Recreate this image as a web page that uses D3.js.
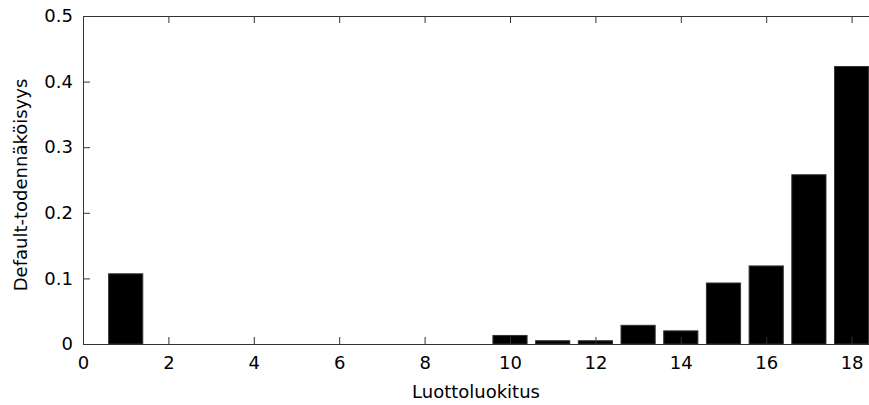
<!DOCTYPE html>
<html>
<head>
<meta charset="utf-8">
<script src="https://cdn.jsdelivr.net/npm/d3@7"></script>
<style>
    body { margin: 0; background: #fff; }
    svg text { font-family: "DejaVu Sans", sans-serif; font-size: 18px; fill: #000; }
</style>
</head>
<body>
<svg id="chart" width="869" height="405"></svg>
<script>
    var ratings = [1, 2, 3, 4, 5, 6, 7, 8, 9, 10, 11, 12, 13, 14, 15, 16, 17, 18];
    var defaultProb = [0.107, 0, 0, 0, 0, 0, 0, 0, 0, 0.013, 0.005, 0.005, 0.0285, 0.020, 0.093, 0.119, 0.258, 0.423];
    var xTicks = [0, 2, 4, 6, 8, 10, 12, 14, 16, 18];
    var yTicks = [0, 0.1, 0.2, 0.3, 0.4, 0.5];

    var svg = d3.select("#chart");

    var plotLeft = 83, plotTop = 16, plotBottom = 344;
    var unit = 42.7;
    var xMax = 19;

    var x = d3.scaleLinear().domain([0, xMax]).range([plotLeft, plotLeft + unit * xMax]);
    var y = d3.scaleLinear().domain([0, 0.5]).range([plotBottom, plotTop]);

    var barW = 0.8;

    // pylväät
    svg.append("g")
        .selectAll("rect")
        .data(ratings)
        .enter()
        .append("rect")
        .attr("x", function(d) { return x(d - barW / 2); })
        .attr("width", x(barW) - x(0))
        .attr("y", function(d, i) { return y(defaultProb[i]); })
        .attr("height", function(d, i) { return y(0) - y(defaultProb[i]); })
        .attr("fill", "#000")
        .attr("stroke", "#333")
        .attr("stroke-width", 1);

    var axisColor = "#333";

    // akselit
    svg.append("g")
        .attr("transform", "translate(0," + plotBottom + ")")
        .call(d3.axisBottom(x).tickValues(xTicks).tickSizeInner(-7).tickSizeOuter(0).tickPadding(12).tickFormat(d3.format("d")))
        .call(function(g) {
            g.select(".domain").attr("stroke", axisColor);
            g.selectAll(".tick line").attr("stroke", axisColor);
            g.selectAll("text").attr("font-family", null).attr("font-size", null);
        });

    svg.append("g")
        .attr("transform", "translate(0," + plotTop + ")")
        .call(d3.axisTop(x).tickValues(xTicks).tickSizeInner(-7).tickSizeOuter(0).tickFormat(""))
        .call(function(g) {
            g.select(".domain").attr("stroke", axisColor);
            g.selectAll(".tick line").attr("stroke", axisColor);
        });

    svg.append("g")
        .attr("transform", "translate(" + plotLeft + ",0)")
        .call(d3.axisLeft(y).tickValues(yTicks).tickSizeInner(-7).tickSizeOuter(0).tickPadding(10).tickFormat(function(d) { return d === 0 ? "0" : d3.format(".1f")(d); }))
        .call(function(g) {
            g.select(".domain").attr("stroke", axisColor);
            g.selectAll(".tick line").attr("stroke", axisColor);
            g.selectAll("text").attr("font-family", null).attr("font-size", null);
        });

    // otsikot
    svg.append("text")
        .attr("x", 476)
        .attr("y", 398)
        .attr("text-anchor", "middle")
        .text("Luottoluokitus");

    svg.append("text")
        .attr("transform", "translate(27,185) rotate(-90)")
        .attr("text-anchor", "middle")
        .text("Default-todennäköisyys");
</script>
</body>
</html>
